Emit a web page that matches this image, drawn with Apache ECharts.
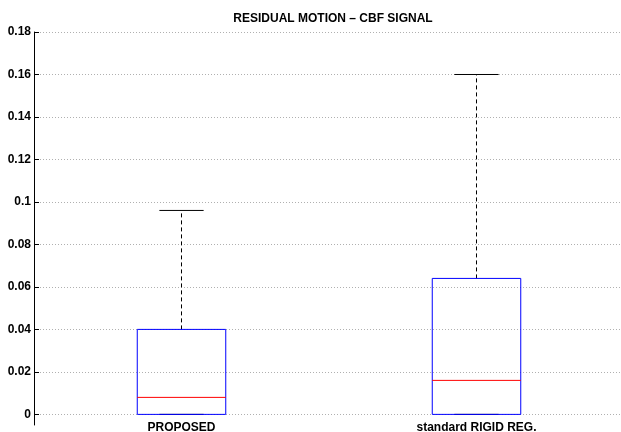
<!DOCTYPE html>
<html>
<head>
<meta charset="utf-8">
<script src="https://cdn.jsdelivr.net/npm/echarts@6/dist/echarts.min.js"></script>
<style>html,body{margin:0;padding:0;background:#fff;}#c{width:621px;height:432px;}</style>
</head>
<body>
<div id="c"></div>
<script>
const titleText = 'RESIDUAL MOTION \u2013 CBF SIGNAL';
const categories = ['PROPOSED', 'standard RIGID REG.'];
const lowerWhisker = [0, 0];
const q1 = [0, 0];
const median = [0.008, 0.016];
const q3 = [0.040, 0.064];
const upperWhisker = [0.096, 0.160];
const yTicks = [0, 0.02, 0.04, 0.06, 0.08, 0.1, 0.12, 0.14, 0.16, 0.18];

const data = categories.map((c, i) => [i, lowerWhisker[i], q1[i], median[i], q3[i], upperWhisker[i]]);

const chart = echarts.init(document.getElementById('c'), null, {renderer: 'canvas'});

function renderItem(params, api) {
  const idx = api.value(0);
  const bw = api.size([1, 0])[0] * 0.3;
  const pLw = api.coord([idx, api.value(1)]);
  const pQ1 = api.coord([idx, api.value(2)]);
  const pMed = api.coord([idx, api.value(3)]);
  const pQ3 = api.coord([idx, api.value(4)]);
  const pUw = api.coord([idx, api.value(5)]);
  const x = pQ1[0];
  const capHalf = bw / 4;
  const black = {stroke: '#000', lineWidth: 1, fill: null};
  const dashed = {stroke: '#000', lineWidth: 1, lineDash: [4, 3], fill: null};
  return {
    type: 'group',
    children: [
      {type: 'line', shape: {x1: x, y1: pQ3[1], x2: x, y2: pUw[1]}, style: dashed},
      {type: 'line', shape: {x1: x, y1: pQ1[1], x2: x, y2: pLw[1]}, style: dashed},
      {type: 'line', shape: {x1: x - capHalf, y1: pUw[1], x2: x + capHalf, y2: pUw[1]}, style: black},
      {type: 'line', shape: {x1: x - capHalf, y1: pLw[1], x2: x + capHalf, y2: pLw[1]}, style: black},
      {type: 'rect', shape: {x: x - bw / 2, y: pQ3[1], width: bw, height: pQ1[1] - pQ3[1]},
        style: {stroke: '#0000ff', lineWidth: 1, fill: null}},
      {type: 'line', shape: {x1: x - bw / 2, y1: pMed[1], x2: x + bw / 2, y2: pMed[1]},
        style: {stroke: '#ff0000', lineWidth: 1, fill: null}}
    ]
  };
}

chart.setOption({
  animation: false,
  backgroundColor: '#ffffff',
  title: {
    text: titleText,
    left: 328, top: 8, textAlign: 'center',
    textStyle: {fontFamily: 'Liberation Sans', fontWeight: 'bold', fontSize: 12, color: '#000'}
  },
  grid: {left: 34, width: 590, top: 32, bottom: 7, containLabel: false, outerBoundsMode: 'none'},
  xAxis: {
    type: 'category',
    data: categories,
    boundaryGap: true,
    axisLine: {show: false},
    axisTick: {show: false},
    splitLine: {show: false},
    axisLabel: {
      margin: -3,
      fontFamily: 'Liberation Sans', fontWeight: 'bold', fontSize: 12, color: '#000'
    }
  },
  yAxis: {
    type: 'value',
    min: -0.005,
    max: 0.18,
    axisLine: {show: true, lineStyle: {color: '#000', width: 1}},
    axisTick: {show: true, inside: true, length: 5, customValues: yTicks, lineStyle: {color: '#000'}},
    axisLabel: {
      customValues: yTicks,
      margin: 3,
      fontFamily: 'Liberation Sans', fontWeight: 'bold', fontSize: 12, color: '#000'
    },
    splitLine: {show: true, lineStyle: {color: '#b0b0b0', type: [1, 2], width: 1}}
  },
  series: [{
    type: 'custom',
    renderItem: renderItem,
    encode: {x: 0, y: [1, 2, 3, 4, 5]},
    data: data,
    clip: false
  }]
});
</script>
</body>
</html>
